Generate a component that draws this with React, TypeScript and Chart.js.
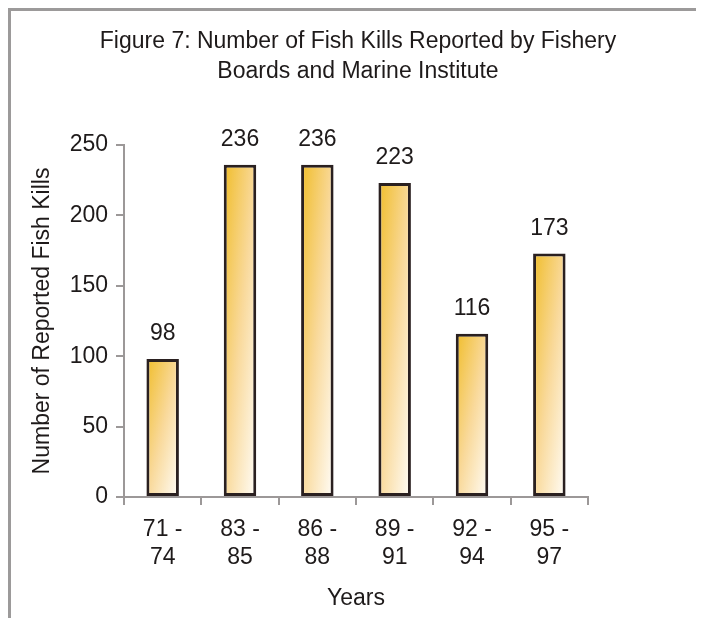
import React, { useEffect, useRef } from "react";
import { Chart, registerables } from "chart.js";

Chart.register(...registerables);

const categories: string[][] = [
  ["71 -", "74"],
  ["83 -", "85"],
  ["86 -", "88"],
  ["89 -", "91"],
  ["92 -", "94"],
  ["95 -", "97"],
];
const fishKills: number[] = [98, 236, 236, 223, 116, 173];
const titleLines: string[] = [
  "Figure 7: Number of Fish Kills Reported by Fishery",
  "Boards and Marine Institute",
];
const yTitle = "Number of Reported Fish Kills";
const xTitle = "Years";

const FONT = "'Liberation Sans', Arial, sans-serif";
const TEXT = "#1e1a1a";
const AXIS = "#9c9898";
const BAR_PCT = 0.42;
const FS = 23;

const chartTitle = {
  id: "chartTitle",
  afterDraw(chart: any) {
    const ctx = chart.ctx;
    ctx.save();
    ctx.font = `${FS}px ${FONT}`;
    ctx.fillStyle = TEXT;
    ctx.textAlign = "center";
    ctx.textBaseline = "middle";
    titleLines.forEach((line, i) => {
      ctx.fillText(line, 347, 31 + i * 30);
    });
    ctx.restore();
  },
};

const valueLabels = {
  id: "valueLabels",
  afterDatasetsDraw(chart: any) {
    const ctx = chart.ctx;
    const meta = chart.getDatasetMeta(0);
    ctx.save();
    ctx.font = `${FS}px ${FONT}`;
    ctx.fillStyle = TEXT;
    ctx.textAlign = "center";
    ctx.textBaseline = "middle";
    meta.data.forEach((el: any, i: number) => {
      ctx.fillText(String(fishKills[i]), el.x, el.y - 25);
    });
    ctx.restore();
  },
};

function barGradient(context: any) {
  const chart = context.chart;
  const xs = chart.scales?.x;
  const ys = chart.scales?.y;
  if (!xs || !ys || context.dataIndex === undefined) return "#f5cf6a";
  const i = context.dataIndex;
  const cx = xs.getPixelForValue(i);
  const step = xs.getPixelForValue(1) - xs.getPixelForValue(0);
  const w = Math.abs(step) * BAR_PCT;
  const left = cx - w / 2;
  const top = ys.getPixelForValue(fishKills[i]);
  const bottom = ys.getPixelForValue(0);
  const h = Math.max(bottom - top, 1);
  if (!isFinite(left) || !isFinite(top) || w <= 0) return "#f5cf6a";
  const a = 0.5;
  const b = 0.5;
  const s = 1 / ((a * a) / (w * w) + (b * b) / (h * h));
  const vx = (a / w) * s;
  const vy = (b / h) * s;
  const g = chart.ctx.createLinearGradient(left, top, left + vx, top + vy);
  g.addColorStop(0, "#f0bd2a");
  g.addColorStop(0.5, "#f9d99a");
  g.addColorStop(1, "#fffdf8");
  return g;
}

export default function App() {
  const canvasRef = useRef<HTMLCanvasElement | null>(null);

  useEffect(() => {
    if (!canvasRef.current) return;
    const chart = new Chart(canvasRef.current, {
      type: "bar",
      data: {
        labels: categories,
        datasets: [
          {
            data: fishKills,
            backgroundColor: barGradient,
            borderColor: "#2a2020",
            borderWidth: 3,
            borderSkipped: false,
            barPercentage: BAR_PCT,
            categoryPercentage: 1,
          },
        ],
      },
      options: {
        animation: false,
        responsive: false,
        maintainAspectRatio: false,
        layout: { padding: { left: 0, right: 108, top: 134, bottom: 0 } },
        plugins: {
          legend: { display: false },
          tooltip: { enabled: false },
          title: { display: false },
        },
        scales: {
          x: {
            grid: {
              display: true,
              drawOnChartArea: false,
              drawTicks: true,
              tickLength: 8,
              color: AXIS,
              lineWidth: 2,
            },
            border: { display: true, color: AXIS, width: 2 },
            ticks: {
              color: TEXT,
              padding: 11,
              maxRotation: 0,
              autoSkip: false,
              font: { family: FONT, size: FS, lineHeight: "28px" },
            },
            title: {
              display: true,
              text: xTitle,
              color: TEXT,
              font: { family: FONT, size: FS, lineHeight: 1.2 },
              padding: { top: 0, bottom: 6 },
            },
            afterFit(scale: any) {
              scale.height = 121;
            },
          },
          y: {
            min: 0,
            max: 250,
            ticks: {
              stepSize: 50,
              color: TEXT,
              padding: 8,
              font: { family: FONT, size: FS },
            },
            grid: {
              display: true,
              drawOnChartArea: false,
              drawTicks: true,
              tickLength: 8,
              color: AXIS,
              lineWidth: 2,
            },
            border: { display: true, color: AXIS, width: 2 },
            title: {
              display: true,
              text: yTitle,
              color: TEXT,
              font: { family: FONT, size: FS, lineHeight: 1.2 },
              padding: { top: 18, bottom: 0 },
            },
            afterFit(scale: any) {
              scale.width = 113;
            },
          },
        },
      },
      plugins: [valueLabels, chartTitle],
    });
    return () => chart.destroy();
  }, []);

  return (
    <div
      style={{
        borderTop: "3px solid #9c9a9a",
        borderLeft: "3px solid #9c9a9a",
        width: 693,
        height: 607,
        background: "#fff",
      }}
    >
      <canvas ref={canvasRef} width={685} height={607} style={{ display: "block" }} />
    </div>
  );
}
